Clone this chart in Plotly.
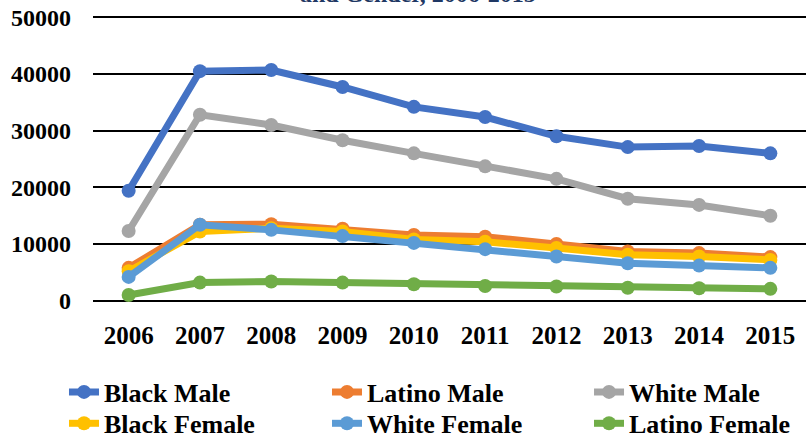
import plotly.graph_objects as go

years = ['2006', '2007', '2008', '2009', '2010', '2011', '2012', '2013', '2014', '2015']

black_male = [19400, 40500, 40700, 37700, 34200, 32400, 29000, 27100, 27300, 26000]
latino_male = [5800, 13400, 13500, 12700, 11600, 11300, 10000, 8700, 8400, 7700]
white_male = [12300, 32800, 31000, 28300, 26000, 23700, 21500, 18000, 16900, 15000]
black_female = [5200, 12200, 12800, 12200, 10800, 10400, 9300, 8100, 7800, 7200]
white_female = [4200, 13400, 12500, 11400, 10200, 9100, 7800, 6600, 6200, 5800]
latino_female = [1000, 3200, 3400, 3200, 2900, 2600, 2500, 2300, 2200, 2100]

series = [
    ('Black Male', black_male, '#4472C4'),
    ('Latino Male', latino_male, '#ED7D31'),
    ('White Male', white_male, '#A5A5A5'),
    ('Black Female', black_female, '#FFC000'),
    ('White Female', white_female, '#5B9BD5'),
    ('Latino Female', latino_female, '#70AD47'),
]

font_family = 'Liberation Serif'

# legend grid: 3 columns x 2 rows, one legend box per entry (Excel-style layout)
legend_cols = [0.0788, 0.4027, 0.7254]
legend_rows = [0.1587, 0.0870]

fig = go.Figure()

legends = {}
for i, (name, values, color) in enumerate(series):
    key = 'legend' if i == 0 else f'legend{i + 1}'
    legends[key] = dict(
        orientation='v',
        xref='container',
        yref='container',
        x=legend_cols[i % 3],
        y=legend_rows[i // 3],
        xanchor='left',
        yanchor='top',
        itemwidth=30,
        bgcolor='rgba(0,0,0,0)',
        font=dict(family=font_family, size=26, color='black', weight='bold'),
    )
    fig.add_trace(
        go.Scatter(
            x=years,
            y=values,
            name=name,
            mode='lines+markers',
            line=dict(color=color, width=7),
            marker=dict(color=color, size=14),
            legend=key,
        )
    )

fig.update_layout(
    width=812,
    height=438,
    margin=dict(l=93, r=6, t=15, b=135, autoexpand=False),
    paper_bgcolor='white',
    plot_bgcolor='white',
    font=dict(family=font_family, size=20, color='black', weight='bold'),
    showlegend=True,
    **legends,
    xaxis=dict(
        type='category',
        range=[-0.5, 9.5],
        showgrid=False,
        showline=False,
        zeroline=False,
        ticks='',
        automargin=False,
        ticklabelstandoff=15,
        tickfont=dict(family=font_family, size=25, weight='bold'),
    ),
    yaxis=dict(
        range=[-400, 50400],
        dtick=10000,
        tick0=0,
        showgrid=True,
        gridcolor='black',
        gridwidth=2,
        zeroline=False,
        showline=False,
        ticks='',
        automargin=False,
        ticklabelstandoff=21,
        ticklabeloverflow='allow',
        tickformat='d',
        tickfont=dict(family=font_family, size=24, weight='bold'),
    ),
)

fig.add_annotation(
    text='and Gender, 2006-2015',
    xref='paper',
    yref='paper',
    x=0.456,
    y=1,
    xanchor='center',
    yanchor='bottom',
    yshift=6,
    showarrow=False,
    font=dict(family=font_family, size=24, color='#1F3864', weight='bold'),
)

# drop the browser's default 8px page margin so the figure sits at the window corner
fig.write_html(
    'out.html',
    config=dict(displayModeBar=False),
    post_script="document.body.style.margin = '0';",
)
